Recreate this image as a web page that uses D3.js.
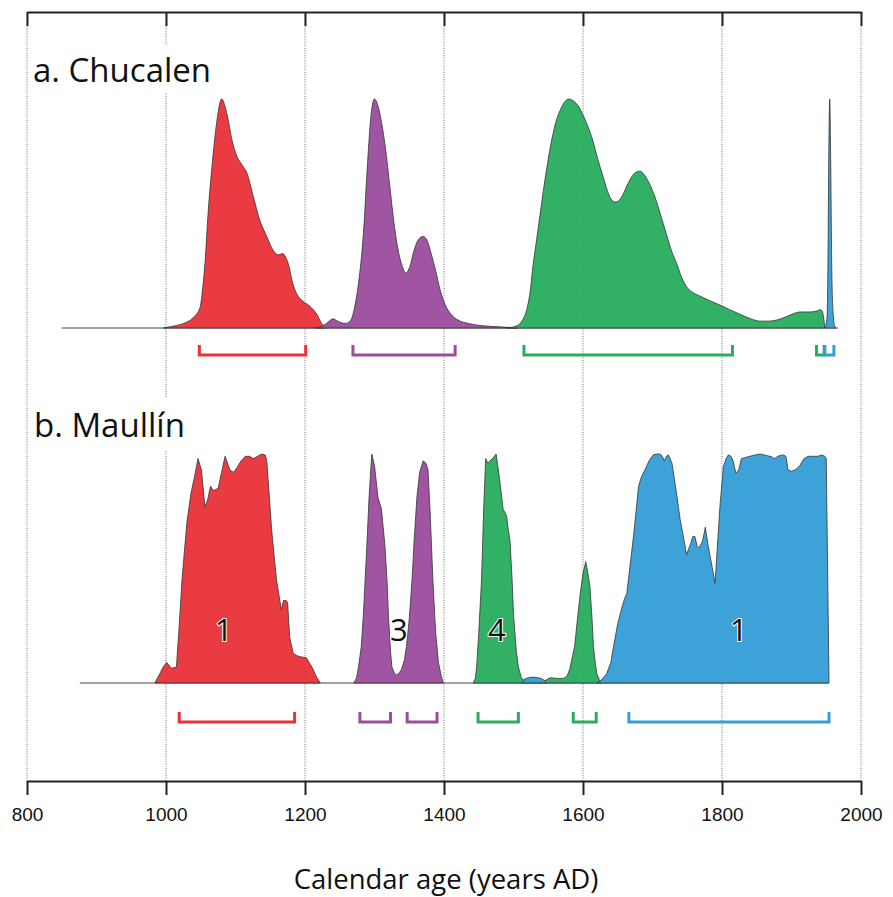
<!DOCTYPE html>
<html>
<head>
<meta charset="utf-8">
<script src="https://cdnjs.cloudflare.com/ajax/libs/d3/7.8.5/d3.min.js"></script>
<style>
  body { margin: 0; background: #fff; }
  svg { font-family: "Open Sans", sans-serif; }
  .grid line { stroke: #8a8a8a; stroke-width: 1.2; stroke-dasharray: 1,1.4; }
  .frame path, .frame line { stroke: #222; stroke-width: 2; }
  .xaxis path, .xaxis line { stroke: #222; stroke-width: 2; }
  .xaxis text { font-size: 19px; fill: #111; }
  .curve { stroke: #333; stroke-width: 0.8; fill-opacity: 0.96; }
  .base { stroke: #444; stroke-width: 1; }
  .bracket { fill: none; stroke-width: 3; }
</style>
</head>
<body>
<svg id="MyGraph" width="893" height="897"></svg>
<script>
// tick labels
var yearTicks = [800, 1000, 1200, 1400, 1600, 1800, 2000];

// a. Chucalen : [year AD, relative probability %]
var chucalenRed = [[996,0],[1010,0.8],[1025,2],[1039,4.5],[1049,9],[1053,18],[1056,28],[1061,52],[1066,70],[1073,90],[1080,100],[1088,93],[1095,82],[1102,75],[1110,71],[1116,68],[1126,57],[1135,47],[1145,40],[1154,34],[1162,32],[1168,32.5],[1172,31],[1176,28],[1182,20],[1188,15],[1196,12],[1207,9.5],[1217,6],[1224,2],[1230,0]];
var chucalenPurple = [[1215,0],[1225,0.8],[1233,2.5],[1240,4],[1248,2.8],[1258,2],[1265,3],[1272,10],[1278,22],[1284,41],[1290,72],[1295,93],[1300,100],[1305,97],[1310,90],[1316,78],[1322,62],[1328,46],[1334,34],[1340,27],[1345,24],[1351,27],[1357,34],[1364,39],[1370,40],[1376,38],[1382,32],[1388,25],[1395,16],[1402,10],[1410,6],[1420,3.5],[1435,2],[1455,1],[1480,0.5],[1505,0]];
var chucalenGreen = [[1490,0],[1505,1],[1512,3],[1519,8],[1524,16],[1528,27],[1533,38],[1538,49],[1543,60],[1548,70],[1553,79],[1557,85],[1562,91],[1567,95],[1573,98.5],[1580,100],[1587,99],[1593,97],[1600,93],[1607,88],[1614,82],[1621,74],[1629,66],[1635,60],[1640,56.5],[1646,55],[1651,55.5],[1657,58],[1663,62],[1670,66],[1676,68],[1682,68.5],[1688,67],[1694,64],[1700,60],[1706,55],[1713,48],[1720,41],[1727,34],[1735,28],[1742,22],[1749,18],[1758,15.5],[1768,14],[1782,12],[1797,10],[1811,8],[1826,6],[1840,4.2],[1855,3],[1867,3],[1879,3.5],[1893,5],[1905,6.5],[1912,7],[1927,7],[1937,7.5],[1941,8],[1944,7.5],[1946,5],[1948,0]];
var chucalenBlue = [[1948,0],[1951,4],[1952.5,30],[1953.5,70],[1955,100],[1956.5,70],[1958,25],[1960,6],[1962,1],[1964,0]];

// b. Maullín
var maullinRed = [[984,0],[991,4],[996,7],[1001,9],[1005,7.5],[1008,6.4],[1015,7],[1019,25],[1023,45],[1030,70],[1036,83],[1041,90],[1046,98],[1051,93],[1056,77],[1060,80],[1064,86],[1068,84],[1075,85],[1080,92],[1085,99],[1092,93],[1097,92],[1102,94],[1108,97],[1114,99],[1120,99],[1126,98],[1132,99],[1138,100],[1143,99.5],[1145,97],[1149,80],[1152,67],[1159,45],[1166,32],[1169,36],[1173,36],[1175,35],[1178,20],[1183,13],[1188,12],[1193,11.5],[1202,11],[1206,9],[1210,7],[1216,3],[1222,0]];
var maullinPurple = [[1270,0],[1274,2],[1277,7],[1281,16],[1284,30],[1289,60],[1292,80],[1296,100],[1300,95],[1305,81],[1310,76],[1315,60],[1318,45],[1320,30],[1323,14],[1325,7],[1329,4],[1332,3.5],[1336,4.5],[1339,6],[1343,10],[1346,16],[1350,28],[1354,45],[1357,62],[1361,81],[1365,92],[1370,97],[1374,96],[1377,93],[1380,75],[1384,45],[1388,22],[1392,9],[1396,3],[1399,0]];
var maullinGreen = [[1442,0],[1445,2],[1447,7],[1450,22],[1454,45],[1457,75],[1460,98],[1463,96],[1466,97],[1470,98],[1475,100],[1480,89],[1485,76],[1490,73],[1492,68],[1495,62],[1498,45],[1500,30],[1504,14],[1507,7],[1511,2.5],[1514,1.3],[1525,0.8],[1538,0.5],[1545,1],[1553,2.3],[1563,2],[1572,2],[1577,3],[1581,6],[1585,12],[1588,16],[1592,28],[1596,39],[1600,48],[1604,53],[1607,48],[1610,42],[1613,28],[1615,16],[1618,8],[1620,4],[1624,1],[1627,0]];
var maullinBlueSmall = [[1512,0],[1516,1.8],[1524,2.5],[1532,2.5],[1540,2],[1545,1],[1548,0]];
var maullinBlue = [[1620,0],[1627,1.5],[1634,4],[1640,9],[1644,16],[1650,26],[1656,33],[1660,37],[1663,39],[1668,52],[1673,65],[1680,86],[1684,90],[1689,93],[1695,97],[1701,99.6],[1706,100],[1711,100],[1714,99],[1717,97],[1720,99],[1723,99.6],[1728,96],[1734,84],[1740,71],[1745,63],[1749,56],[1755,61],[1758,64],[1761,64],[1764,60],[1767,59],[1772,62],[1776,68],[1780,60],[1785,52],[1790,43.5],[1793,58],[1797,77],[1802,94.5],[1806,98],[1809,99.6],[1813,99],[1816,97],[1820,91.6],[1824,93],[1828,98],[1834,98.5],[1840,99],[1848,99.6],[1855,100],[1862,99.5],[1869,99],[1873,98.5],[1876,98],[1880,99],[1888,99.6],[1892,99],[1895,93],[1900,92.5],[1905,93],[1909,94],[1912,95],[1918,98],[1924,99],[1933,99],[1938,99],[1943,99.6],[1948,99],[1950,98],[1954,0]];

// 95% ranges [from, to, colour key]
var chucalenRanges = [[1048,1201,"red"],[1269,1416,"purple"],[1515,1815,"green"],[1936,1947,"green"],[1948,1961,"blue"]];
var maullinRanges = [[1019,1185,"red"],[1279,1323,"purple"],[1347,1390,"purple"],[1449,1507,"green"],[1586,1619,"green"],[1666,1954,"blue"]];

// zone numbers in panel b
var zoneLabels = [[1083,"1"],[1335,"3"],[1476,"4"],[1824,"1"]];

var colors = {red: "#e9333a", purple: "#9b4e9e", green: "#2aad5f", blue: "#359ed6"};

var svg = d3.select("#MyGraph");

var x = d3.scaleLinear().domain([800, 2000]).range([27, 861]);
var yA = d3.scaleLinear().domain([0, 100]).range([328, 99]);
var yB = d3.scaleLinear().domain([0, 100]).range([683, 454]);

var top_y = 12, axis_y = 781;

// dotted verticals
svg.append("g").attr("class", "grid")
    .selectAll("line").data(yearTicks).enter().append("line")
    .attr("x1", function(d){ return x(d); }).attr("x2", function(d){ return x(d); })
    .attr("y1", top_y).attr("y2", axis_y);

// white boxes behind panel titles
svg.append("rect").attr("x", 31).attr("y", 45).attr("width", 186).attr("height", 48).attr("fill", "#fff");
svg.append("rect").attr("x", 31).attr("y", 397).attr("width", 158).attr("height", 53).attr("fill", "#fff");

// top frame with inward ticks
svg.append("g").attr("class", "frame")
    .attr("transform", "translate(0," + top_y + ")")
    .call(d3.axisTop(x).tickValues(yearTicks).tickSizeInner(-14).tickSizeOuter(0).tickFormat(""));

// bottom axis
svg.append("g").attr("class", "xaxis")
    .attr("transform", "translate(0," + axis_y + ")")
    .call(d3.axisBottom(x).tickValues(yearTicks).tickSize(14).tickSizeOuter(0).tickPadding(13).tickFormat(d3.format("d")));

svg.append("text")
    .attr("x", 446).attr("y", 889)
    .attr("text-anchor", "middle")
    .style("font-size", "27.5px").style("fill", "#111")
    .text("Calendar age (years AD)");

function drawPanel(y, series, curve, baseFrom, baseTo) {
  var area = d3.area()
      .curve(curve)
      .x(function(d){ return x(d[0]); })
      .y0(y(0))
      .y1(function(d){ return y(d[1]); });

  svg.append("line").attr("class", "base")
      .attr("x1", x(baseFrom)).attr("x2", x(baseTo))
      .attr("y1", y(0)).attr("y2", y(0));

  series.forEach(function(s){
    svg.append("path")
        .datum(s[0])
        .attr("class", "curve")
        .attr("fill", colors[s[1]])
        .attr("d", area);
  });
}

function drawRanges(ranges, yTop, yBot) {
  svg.append("g").selectAll("path").data(ranges).enter().append("path")
      .attr("class", "bracket")
      .attr("stroke", function(d){ return colors[d[2]]; })
      .attr("d", function(d){
        return "M" + x(d[0]) + "," + yTop + "V" + yBot + "H" + x(d[1]) + "V" + yTop;
      });
}

drawPanel(yA, [[chucalenRed, "red"], [chucalenPurple, "purple"], [chucalenGreen, "green"], [chucalenBlue, "blue"]],
          d3.curveMonotoneX, 850, 1967);
drawPanel(yB, [[maullinRed, "red"], [maullinPurple, "purple"], [maullinGreen, "green"], [maullinBlueSmall, "blue"], [maullinBlue, "blue"]],
          d3.curveLinear, 876, 1954);

drawRanges(chucalenRanges, 345, 355);
drawRanges(maullinRanges, 712, 722);

// zone numbers
svg.append("g").selectAll("text").data(zoneLabels).enter().append("text")
    .attr("x", function(d){ return x(d[0]); })
    .attr("y", yB(23))
    .attr("dy", "0.36em")
    .attr("text-anchor", "middle")
    .style("font-size", "31px")
    .style("fill", "#111")
    .style("stroke", "#fff").style("stroke-width", 2).style("paint-order", "stroke")
    .text(function(d){ return d[1]; });

// panel titles
svg.append("text").attr("x", 33).attr("y", 82)
    .style("font-size", "33px").style("fill", "#111")
    .text("a. Chucalen");
svg.append("text").attr("x", 34).attr("y", 437)
    .style("font-size", "33px").style("fill", "#111")
    .text("b. Maullín");
</script>
</body>
</html>
